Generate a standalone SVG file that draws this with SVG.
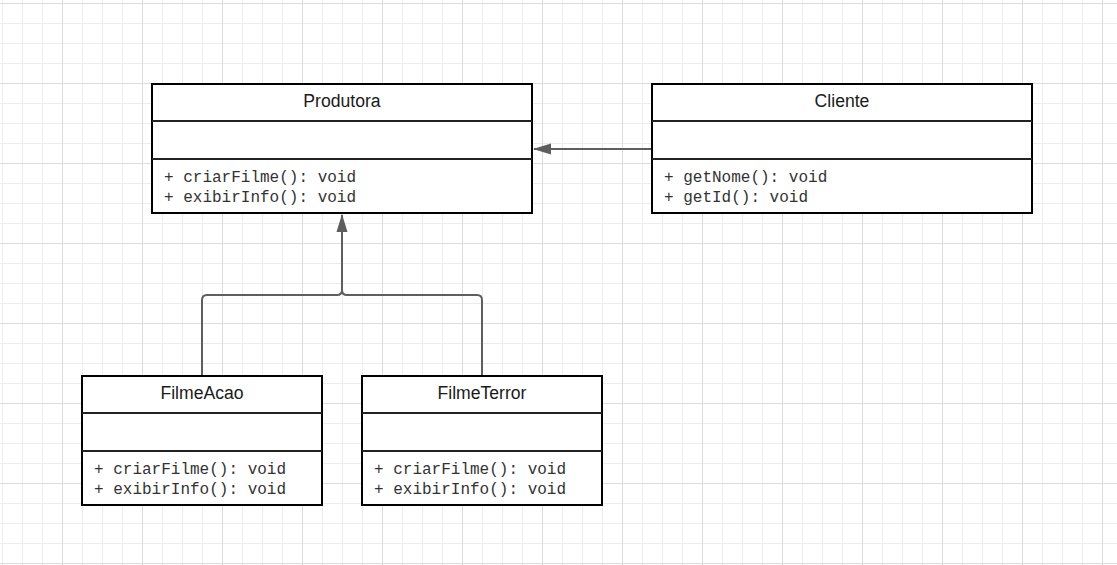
<svg xmlns="http://www.w3.org/2000/svg" width="1117" height="565" viewBox="0 0 1117 565">
  <defs>
    <pattern id="minor" patternUnits="userSpaceOnUse" x="2" y="3" width="20" height="20">
      <path d="M0.5,0 V20 M0,0.5 H20" fill="none" stroke="#ececec" stroke-width="1"/>
    </pattern>
    <pattern id="major" patternUnits="userSpaceOnUse" x="62" y="3" width="80" height="80">
      <path d="M0.5,0 V80 M0,0.5 H80" fill="none" stroke="#dcdcdc" stroke-width="1"/>
    </pattern>
    <marker id="arrow" viewBox="0 0 18 12" refX="17" refY="6" markerWidth="18" markerHeight="12" markerUnits="userSpaceOnUse" orient="auto">
      <path d="M0,0.5 L18,6 L0,11.5 Z" fill="#5e5e5e"/>
    </marker>
    <style>
      .box { fill: #ffffff; stroke: #000000; stroke-width: 2; }
      .div { stroke: #222222; stroke-width: 2; }
      .title { font-family: "Liberation Sans", Arial, sans-serif; font-size: 17.6px; fill: #1a1a1a; text-anchor: middle; }
      .op { font-family: "Liberation Mono", "Courier New", monospace; font-size: 16px; fill: #333333; }
      .conn { fill: none; stroke: #5e5e5e; stroke-width: 2; }
    </style>
  </defs>
  <rect x="0" y="0" width="1117" height="565" fill="#ffffff"/>
  <rect x="0" y="0" width="1117" height="565" fill="url(#minor)"/>
  <rect x="0" y="0" width="1117" height="565" fill="url(#major)"/>

  <g id="connectors">
    <path class="conn" d="M652,149 H534" marker-end="url(#arrow)"/>
    <path class="conn" d="M202,376 V300 Q202,295 207,295 H337 Q342,295 342,290 V215" marker-end="url(#arrow)"/>
    <path class="conn" d="M482,376 V300 Q482,295 477,295 H347 Q342,295 342,290"/>
  </g>

  <g id="Produtora">
    <rect class="box" x="152" y="84" width="380" height="129"/>
    <line class="div" x1="152" y1="121" x2="532" y2="121"/>
    <line class="div" x1="152" y1="159" x2="532" y2="159"/>
    <text class="title" x="342" y="107">Produtora</text>
    <text class="op" x="164" y="182">+ criarFilme(): void</text>
    <text class="op" x="164" y="202">+ exibirInfo(): void</text>
  </g>

  <g id="Cliente">
    <rect class="box" x="652" y="84" width="380" height="129"/>
    <line class="div" x1="652" y1="121" x2="1032" y2="121"/>
    <line class="div" x1="652" y1="159" x2="1032" y2="159"/>
    <text class="title" x="842" y="107">Cliente</text>
    <text class="op" x="664" y="182">+ getNome(): void</text>
    <text class="op" x="664" y="202">+ getId(): void</text>
  </g>

  <g id="FilmeAcao">
    <rect class="box" x="82" y="376" width="240" height="129"/>
    <line class="div" x1="82" y1="413" x2="322" y2="413"/>
    <line class="div" x1="82" y1="451" x2="322" y2="451"/>
    <text class="title" x="202" y="399">FilmeAcao</text>
    <text class="op" x="94" y="474">+ criarFilme(): void</text>
    <text class="op" x="94" y="494">+ exibirInfo(): void</text>
  </g>

  <g id="FilmeTerror">
    <rect class="box" x="362" y="376" width="240" height="129"/>
    <line class="div" x1="362" y1="413" x2="602" y2="413"/>
    <line class="div" x1="362" y1="451" x2="602" y2="451"/>
    <text class="title" x="482" y="399">FilmeTerror</text>
    <text class="op" x="374" y="474">+ criarFilme(): void</text>
    <text class="op" x="374" y="494">+ exibirInfo(): void</text>
  </g>
</svg>
